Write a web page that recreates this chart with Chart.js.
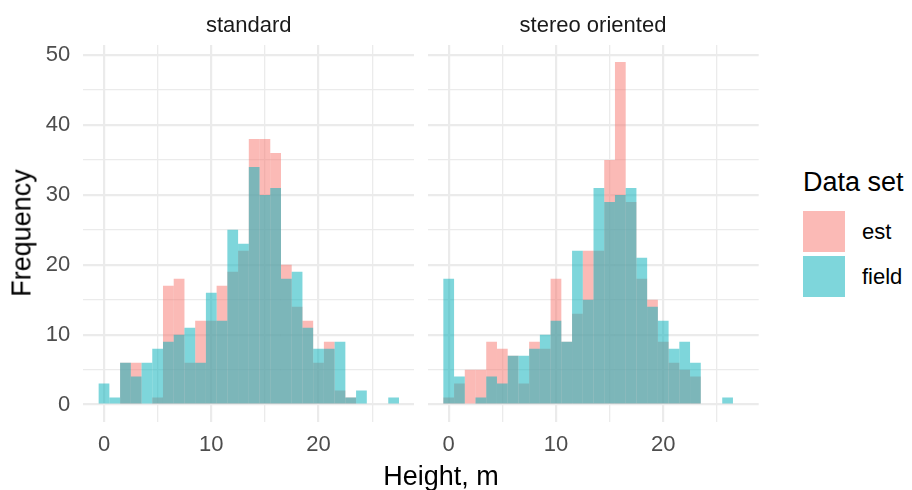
<!DOCTYPE html>
<html>
<head>
<meta charset="utf-8">
<script src="https://cdn.jsdelivr.net/npm/chart.js@4.4.0/dist/chart.umd.min.js"></script>
<style>
  body { margin: 0; background: #fff; font-family: "Liberation Sans", Arial, sans-serif; }
  #wrap { position: relative; width: 912px; height: 490px; overflow: hidden; }
  canvas { position: absolute; top: 0; }
  .txt { position: absolute; white-space: nowrap; line-height: 1; transform: translate(-50%, -50%); }
  .strip { font-size: 22px; color: #1a1a1a; }
  .title { font-size: 27px; color: #000; }
  .key { position: absolute; width: 42px; height: 41px; }
  .klabel { position: absolute; font-size: 22px; line-height: 1; color: #000; transform: translateY(-50%); }
</style>
</head>
<body>
<div id="wrap">
  <canvas id="leftChart" width="420" height="490" style="left:0"></canvas>
  <canvas id="rightChart" width="345" height="490" style="left:420px"></canvas>

  <div class="txt strip" style="left:248.7px; top:25px">standard</div>
  <div class="txt strip" style="left:593px; top:25px">stereo oriented</div>
  <div class="txt title" style="left:441px; top:475.6px">Height, m</div>
  <div class="txt title" style="left:22px; top:233px; transform: translate(-50%, -50%) rotate(-90deg)">Frequency</div>

  <div class="txt title" style="left:803px; top:182.4px; transform: translateY(-50%)">Data set</div>
  <div class="key" style="left:803px; top:211px; background: rgba(248,118,109,0.5)"></div>
  <div class="key" style="left:803px; top:256px; background: rgba(20,180,190,0.55)"></div>
  <div class="klabel" style="left:862px; top:231.5px">est</div>
  <div class="klabel" style="left:862px; top:276.5px">field</div>
</div>

<script>
// histogram bin centres (height, m) and counts per bin
const heights = [0, 1, 2, 3, 4, 5, 6, 7, 8, 9, 10, 11, 12, 13, 14, 15, 16, 17, 18, 19, 20, 21, 22, 23, 24, 25, 26, 27];

const standardEst   = [0, 0, 6, 6, 0, 1, 17, 18, 6, 12, 12, 17, 19, 22, 38, 38, 36, 20, 14, 12, 6, 9, 2, 1, 0, 0, 0, 0];
const standardField = [3, 1, 6, 4, 6, 8, 9, 10, 11, 6, 16, 12, 25, 23, 34, 30, 31, 18, 19, 11, 8, 8, 9, 1, 2, 0, 0, 1];

const stereoEst     = [1, 3, 5, 5, 9, 8, 7, 3, 9, 8, 18, 9, 13, 22, 22, 35, 49, 29, 18, 15, 9, 6, 5, 4, 0, 0, 0, 0];
const stereoField   = [18, 4, 0, 1, 4, 3, 7, 7, 8, 10, 12, 9, 22, 15, 31, 29, 30, 31, 21, 14, 12, 8, 9, 6, 0, 0, 1, 0];

const xTicks = [0, 5, 10, 15, 20, 25];
const yTicks = [0, 5, 10, 15, 20, 25, 30, 35, 40, 45, 50];

const estColor = "rgba(248,118,109,0.5)";
const fieldColor = "rgba(20,180,190,0.55)";
const gridColor = "#ebebeb";
const tickFont = { family: "'Liberation Sans', Arial, sans-serif", size: 22 };

function toPoints(arr) {
  return heights.map((h, i) => ({ x: h, y: arr[i] }));
}

function barSet(label, arr, color, order) {
  return {
    label: label,
    data: toPoints(arr),
    backgroundColor: color,
    borderWidth: 0,
    barPercentage: 1,
    categoryPercentage: 1,
    grouped: false,
    inflateAmount: 0,
    order: order
  };
}

function gridWidth(c) {
  return c.tick && c.tick.value % 10 === 0 ? 2.2 : 1.3;
}

function makePanel(canvasId, est, field, showY, padding) {
  const ctx = document.getElementById(canvasId).getContext("2d");
  return new Chart(ctx, {
    type: "bar",
    data: {
      datasets: [
        barSet("est", est, estColor, 2),
        barSet("field", field, fieldColor, 1)
      ]
    },
    options: {
      responsive: false,
      animation: false,
      devicePixelRatio: 1,
      layout: { padding: padding },
      plugins: { legend: { display: false }, tooltip: { enabled: false } },
      scales: {
        x: {
          type: "linear",
          min: -1.93,
          max: 28.9,
          offset: false,
          afterBuildTicks: s => { s.ticks = xTicks.map(v => ({ value: v })); },
          afterFit: s => { s.height = 68.3; },
          grid: { offset: false, color: gridColor, lineWidth: gridWidth, drawTicks: false },
          border: { display: false },
          ticks: {
            font: tickFont,
            color: "#4d4d4d",
            padding: 10,
            maxRotation: 0,
            autoSkip: false,
            callback: v => (v % 10 === 0 ? v : "")
          }
        },
        y: {
          min: -2.45,
          max: 51.45,
          afterBuildTicks: s => { s.ticks = yTicks.map(v => ({ value: v })); },
          afterFit: s => { s.width = showY ? 83.3 : 0; },
          grid: { color: gridColor, lineWidth: gridWidth, drawTicks: false },
          border: { display: false },
          ticks: {
            display: showY,
            font: tickFont,
            color: "#4d4d4d",
            padding: 13,
            autoSkip: false,
            callback: v => (v % 10 === 0 ? v : "")
          }
        }
      }
    }
  });
}

makePanel("leftChart", standardEst, standardField, true, { top: 45, right: 6, bottom: 0, left: 0 });
makePanel("rightChart", stereoEst, stereoField, false, { top: 45, right: 6.3, bottom: 0, left: 8 });
</script>
</body>
</html>
